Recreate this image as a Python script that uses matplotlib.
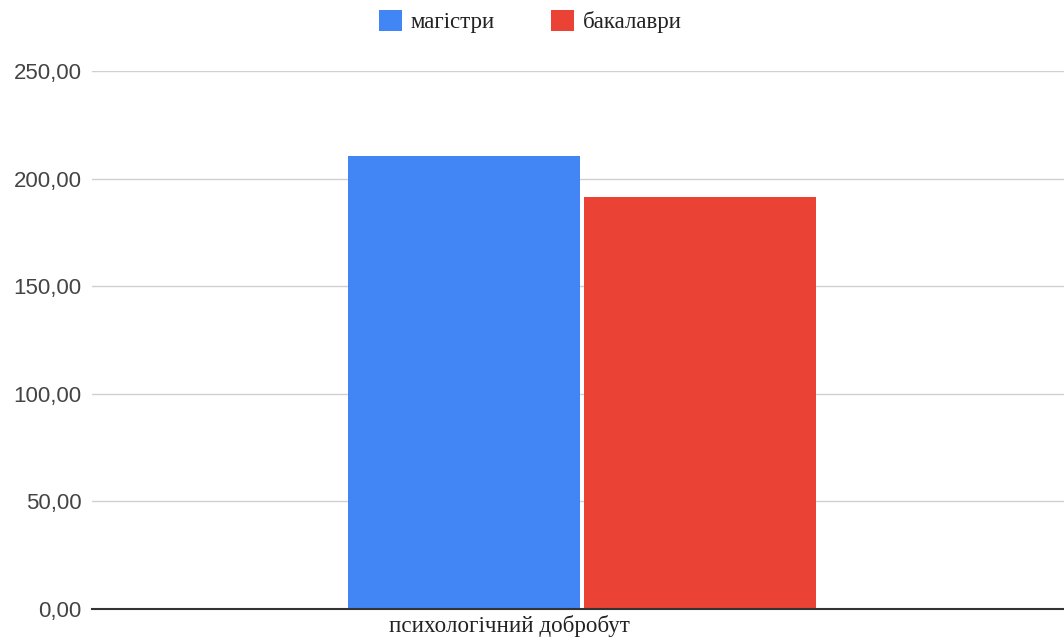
import matplotlib
matplotlib.use("Agg")
import matplotlib.pyplot as plt
from matplotlib.ticker import FuncFormatter

categories = ["психологічний добробут"]
series_names = ["магістри", "бакалаври"]
series_values = [[210.5], [191.5]]
series_colors = ["#4285f4", "#ea4335"]
y_ticks = [0, 50, 100, 150, 200, 250]

fig = plt.figure(figsize=(10.64, 6.37), dpi=100)
ax = fig.add_axes([92 / 1064, 1 - 609 / 637, 1 - 92 / 1064, (609 - 71) / 637])

bar_w = 0.477
gap = 0.008
for i, (name, vals, col) in enumerate(zip(series_names, series_values, series_colors)):
    offset = (i - 0.5) * (bar_w + gap)
    ax.bar([k + offset for k in range(len(categories))], vals, width=bar_w,
           color=col, label=name, zorder=3, linewidth=0)

ax.set_xlim(-1.008, 0.992)
ax.set_ylim(0, 250)
ax.set_yticks(y_ticks)
ax.yaxis.set_major_formatter(FuncFormatter(lambda v, _: f"{v:.2f}".replace(".", ",")))
ax.tick_params(axis="y", length=0, pad=7.5, labelsize=16, labelcolor="#444444")
for lbl in ax.get_yticklabels():
    lbl.set_family("Liberation Sans")
ax.set_xticks([])
ax.grid(axis="y", color="#d0d0d0", linewidth=1, zorder=0)
for s in ["top", "right", "left"]:
    ax.spines[s].set_visible(False)
ax.spines["bottom"].set_color("#333333")
ax.spines["bottom"].set_linewidth(1.5)
ax.spines["bottom"].set_zorder(4)

fig.text(509 / 1064, 1 - 632 / 637, categories[0], ha="center", va="baseline",
         fontsize=16.6, family="Liberation Serif", color="#222222")

leg = fig.legend(loc="upper left", bbox_to_anchor=(379 / 1064, 1 - 10 / 637), ncol=2,
                 frameon=False, borderpad=0, borderaxespad=0,
                 prop={"family": "Liberation Serif", "size": 16.5},
                 handlelength=1.02, handleheight=1.02, handletextpad=0.36,
                 columnspacing=2.45)
for t in leg.get_texts():
    t.set_color("#222222")

fig.savefig("out.png", dpi=100)
